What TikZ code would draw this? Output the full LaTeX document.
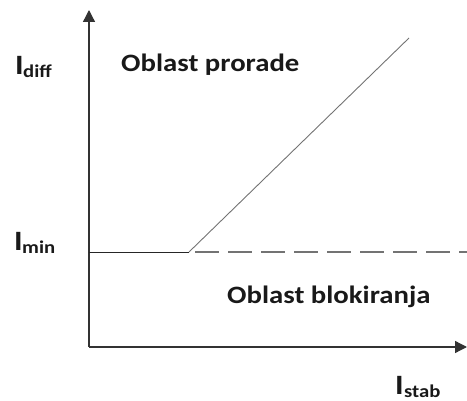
\documentclass[tikz,border=0pt]{standalone}
\usepackage{fontspec}
\setmainfont{Carlito}[FakeStretch=1.15]
\usetikzlibrary{arrows.meta}
\begin{document}
\begin{tikzpicture}[x=1pt,y=-1pt,
  axis/.style={draw=black!80,line width=1.3pt,-{Triangle[length=12pt,width=12pt]}},
  lbl/.style={font=\bfseries\fontsize{25}{28}\selectfont,text=black!90,inner sep=0pt},
  ilbl/.style={font=\bfseries\fontsize{28}{30}\selectfont,text=black!90,inner sep=0pt},
  sub/.style={font=\bfseries\fontsize{18}{20}\selectfont,text=black!90,inner sep=0pt}]
\useasboundingbox (0,0) rectangle (467,401);
\coordinate (o) at (89,347);
\coordinate (ytop) at (89,10);
\coordinate (xend) at (467,347);
\coordinate (m0) at (89,252);
\coordinate (k) at (189,252);
\coordinate (kd) at (195,252);
\coordinate (mend) at (467,252);
\coordinate (d) at (409,38);
\draw[axis] (o) -- (ytop);
\draw[axis] (o) -- (xend);
\draw[black!85,line width=0.8pt] (m0) -- (k);
\draw[black!55,line width=0.9pt] (k) -- (d);
\draw[black!55,line width=1.2pt,dash pattern=on 24pt off 9pt] (kd) -- (mend);
\node[ilbl,anchor=base west] (idiff) at (15,75) {I};
\node[sub,anchor=base west] (idiffs) at (23,78) {diff};
\node[ilbl,anchor=base west] (imin) at (14,251) {I};
\node[sub,anchor=base west] (imins) at (22,254) {min};
\node[ilbl,anchor=base west] (istab) at (395,395) {I};
\node[sub,anchor=base west] (istabs) at (404,398) {stab};
\node[lbl,anchor=base west] (pro) at (121,72) {Oblast prorade};
\node[lbl,anchor=base west] (blo) at (227,304) {Oblast blokiranja};
\end{tikzpicture}
\end{document}
